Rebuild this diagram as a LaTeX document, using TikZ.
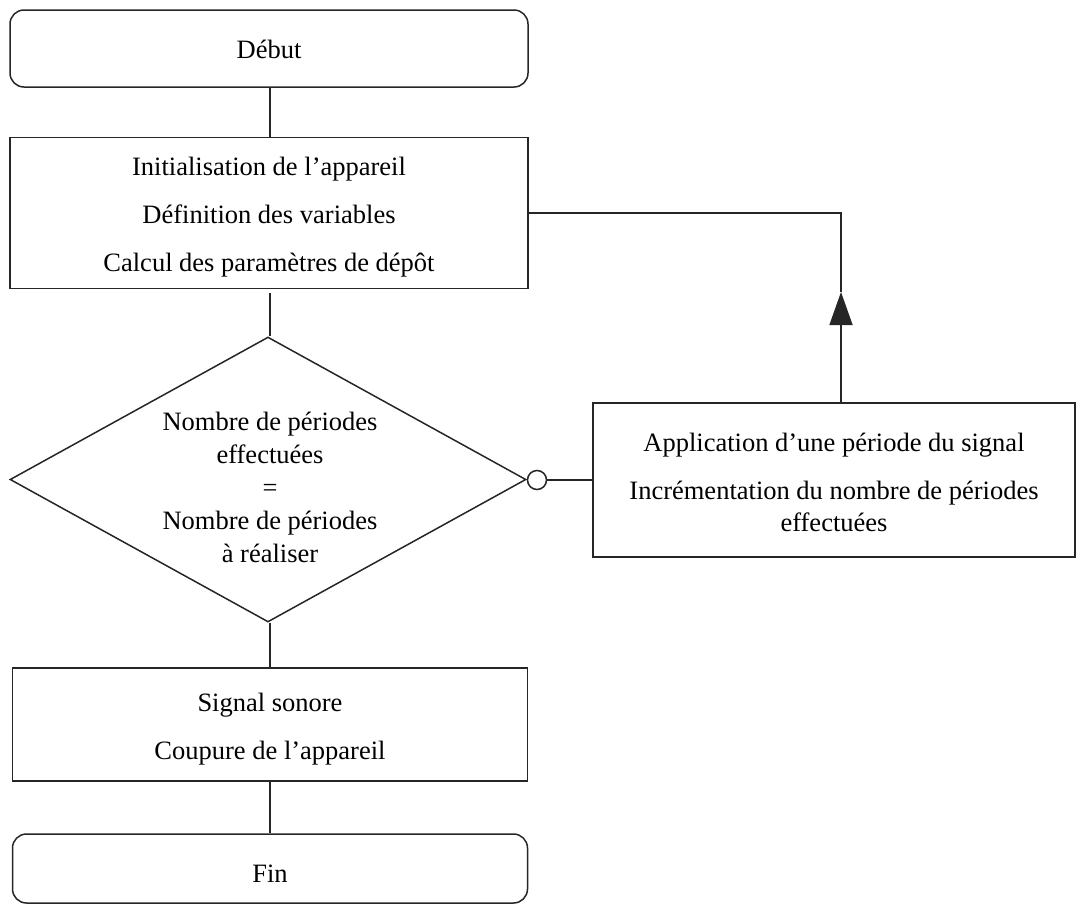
\documentclass[tikz,border=0pt]{standalone}
\usepackage{fontspec}
\setmainfont{Liberation Serif}
\usetikzlibrary{shapes.geometric,arrows.meta}
\begin{document}
\begin{tikzpicture}[x=1pt,y=-1pt,
  every node/.style={font=\fontsize{26.5}{32}\selectfont, align=center, inner sep=0pt},
  conn/.style={line width=1.5pt, draw=black!85},
  procbox/.style={draw=black!85, line width=1.5pt, rectangle},
  termbox/.style={draw=black!85, line width=1.5pt, rectangle, rounded corners=14pt},
  decbox/.style={draw=black!85, line width=1.5pt, diamond, aspect=1.81},
  joint/.style={draw=black!85, line width=1.5pt, circle, fill=white, minimum size=19pt}
]
\useasboundingbox (0,0) rectangle (1080,906);

\node[termbox, minimum width=518pt, minimum height=77pt,
  label={[yshift=-1pt]center:Début}] (debut) at (269,48.5) {};
\node[procbox, minimum width=518pt, minimum height=151pt,
  label={[yshift=-4pt]center:Initialisation de l’appareil\\[16pt]Définition des variables\\[16pt]Calcul des paramètres de dépôt}] (init) at (269,213) {};
\node[decbox, minimum width=516pt, minimum height=285pt] (dec) at (268,479.5) {};
\node[font=\fontsize{26.5}{33}\selectfont] (dectext) at (270,487)
  {Nombre de périodes\\effectuées\\=\\Nombre de périodes\\à réaliser};
\node[joint] (circ) at (537,480) {};
\node[procbox, minimum width=482pt, minimum height=154pt,
  label={[yshift=-2pt]center:Application d’une période du signal\\[16pt]Incrémentation du nombre de périodes\\effectuées}] (app) at (834,480) {};
\node[procbox, minimum width=515pt, minimum height=113pt,
  label={[yshift=-5pt]center:Signal sonore\\[16pt]Coupure de l’appareil}] (sig) at (270,724.5) {};
\node[termbox, minimum width=515pt, minimum height=69pt,
  label={[yshift=-5pt]center:Fin}] (fin) at (270,868.5) {};

\coordinate (fb) at (841,214);
\coordinate (tip) at (841,292);

\draw[conn] (debut.south -| 270,0) -- (init.north -| 270,0);
\draw[conn, shorten <=4pt] (init.south -| 270,0) -- (dec.north -| 270,0);
\draw[conn] (dec.south -| 270,0) -- (sig.north -| 270,0);
\draw[conn] (sig.south -| 270,0) -- (fin.north -| 270,0);
\draw[conn] (circ.east) -- (app.west);
\draw[conn, -{Triangle[length=33pt,width=23pt]}] (app.north -| fb) -- (tip);
\draw[conn] (tip) -- (fb |- init.east) -- (init.east);
\end{tikzpicture}
\end{document}
